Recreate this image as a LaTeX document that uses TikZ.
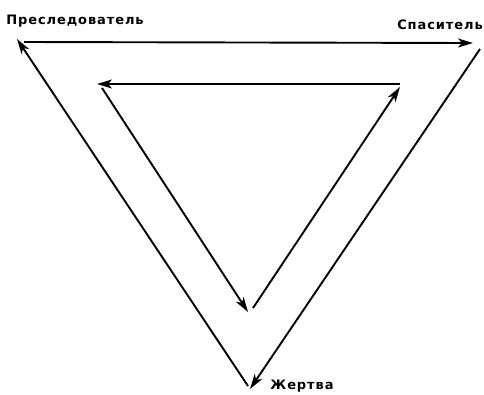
\documentclass[tikz,border=0pt]{standalone}
\usepackage{fontspec}
\setmainfont{DejaVu Sans}[LetterSpace=7]
\usetikzlibrary{arrows.meta}
\begin{document}
\begin{tikzpicture}[x=1pt,y=-1pt,
  conn/.style={line width=1.9pt,-{Stealth[length=15pt,width=9pt,inset=4pt]}},
  lbl/.style={font=\bfseries\fontsize{13}{15}\selectfont,inner sep=0pt}]
\useasboundingbox[fill=white] (0,0) rectangle (484,394);
% outer triangle corners
\coordinate (PL) at (17,39);
\coordinate (PLs) at (24,42);
\coordinate (SR) at (473,43);
\coordinate (SRs) at (480,49);
\coordinate (JB) at (250,389);
\coordinate (JBs) at (248,386);
% inner triangle corners
\coordinate (IL) at (97,84);
\coordinate (ILs) at (102,88);
\coordinate (IR) at (400,84);
\coordinate (IRt) at (400,87);
\coordinate (IB) at (248,312);
\coordinate (IBs) at (253,308);
\node[lbl] (p) at (75,21.5) {Преследователь};
\node[lbl] (s) at (440,24.5) {Спаситель};
\node[lbl,anchor=base] (j) at (302,389.5) {Жертва};
\draw[conn] (PLs) -- (SR);
\draw[conn] (SRs) -- (JB);
\draw[conn] (JBs) -- (PL);
\draw[conn] (IR) -- (IL);
\draw[conn] (ILs) -- (IB);
\draw[conn] (IBs) -- (IRt);
\end{tikzpicture}
\end{document}
